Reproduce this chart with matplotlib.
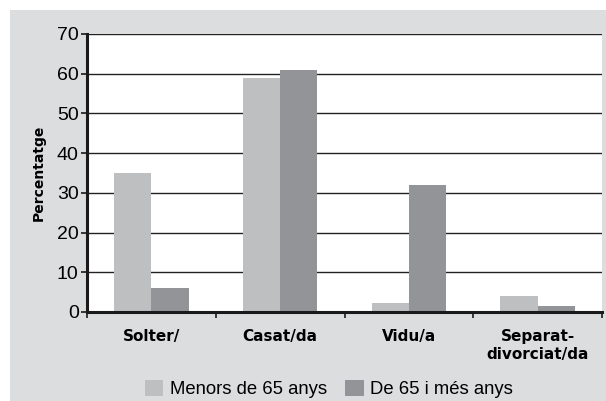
import numpy as np
import matplotlib.pyplot as plt
from matplotlib.patches import Rectangle

# data
categories = ['Solter/', 'Casat/da', 'Vidu/a', 'Separat-\ndivorciat/da']
menors = [35, 59, 2.2, 4]
grans = [6, 61, 32, 1.5]
series_names = ['Menors de 65 anys', 'De 65 i més anys']
yticks = [0, 10, 20, 30, 40, 50, 60, 70]

light = '#bebfc1'
dark = '#939497'
bg = '#dcdddf'

fig = plt.figure(figsize=(6.06, 4.01), dpi=100)
fig.patch.set_facecolor('white')
fig.patches.append(Rectangle((10/606, 0), 1 - 10/606, 1 - 10/401,
                             transform=fig.transFigure, facecolor=bg,
                             edgecolor='none', zorder=-10))

ax = fig.add_axes([87/606, 89/401, 515/606, 278/401])
ax.set_facecolor('white')

x = np.arange(len(categories))
w = 0.29
ax.bar(x - w/2, menors, w, color=light, label=series_names[0], zorder=3)
ax.bar(x + w/2, grans, w, color=dark, label=series_names[1], zorder=3)

ax.set_xlim(-0.5, len(categories) - 0.5)
ax.set_ylim(0, 70)
ax.set_yticks(yticks)
ax.yaxis.grid(True, color='#222222', linewidth=1.0, zorder=1)
ax.set_axisbelow(True)

for s in ['top', 'right']:
    ax.spines[s].set_visible(False)
for s in ['left', 'bottom']:
    ax.spines[s].set_linewidth(2.2)
    ax.spines[s].set_color('#1a1a1a')
    ax.spines[s].set_zorder(4)

# category labels between boundary ticks
ax.set_xticks(np.arange(-0.5, len(categories)), minor=False)
ax.set_xticklabels([])
ax.tick_params(axis='x', direction='out', length=4, width=1.2, color='#1a1a1a')
ax.set_xticks(x, minor=True)
ax.set_xticklabels(categories, minor=True, fontsize=11, fontweight='bold',
                   family='DejaVu Sans', linespacing=1.25)
ax.tick_params(axis='x', which='minor', length=0, pad=12)
ax.tick_params(axis='y', direction='out', length=4, width=1.2, color='#1a1a1a',
               labelsize=14, pad=2)
for t in ax.get_yticklabels():
    t.set_family('Liberation Sans')

ax.set_ylabel('Percentatge', fontsize=10, fontweight='bold', labelpad=8)

leg = fig.legend(loc='lower center', bbox_to_anchor=(0.543, -0.035), ncol=2,
                 frameon=False, prop={'family': 'Liberation Sans', 'size': 13.3},
                 handlelength=1.0, handleheight=1.0, handletextpad=0.35,
                 columnspacing=1.0)

fig.savefig('out.png', dpi=100)
